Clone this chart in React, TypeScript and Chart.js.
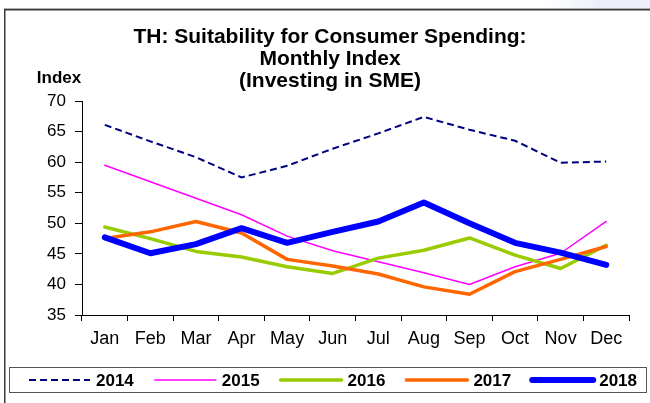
import React, { useEffect, useRef } from "react";
import { Chart, registerables } from "chart.js";

Chart.register(...registerables);

const months = ["Jan", "Feb", "Mar", "Apr", "May", "Jun", "Jul", "Aug", "Sep", "Oct", "Nov", "Dec"];
const seriesNames = ["2014", "2015", "2016", "2017", "2018"];
const idx2014 = [66.1, 63.4, 60.8, 57.5, 59.4, 62.2, 64.7, 67.4, 65.3, 63.5, 59.9, 60.1];
const idx2015 = [59.5, 56.8, 54.1, 51.4, 47.9, 45.5, 43.7, 41.9, 40.0, 42.9, 45.1, 50.3];
const idx2016 = [49.4, 47.5, 45.4, 44.5, 42.9, 41.8, 44.3, 45.6, 47.6, 44.8, 42.6, 46.4];
const idx2017 = [47.5, 48.6, 50.3, 48.4, 44.1, 43.0, 41.7, 39.6, 38.4, 42.1, 44.1, 46.2];
const idx2018 = [47.7, 45.1, 46.6, 49.2, 46.8, 48.6, 50.3, 53.4, 50.0, 46.8, 45.2, 43.2];
const titleLines = ["TH: Suitability for Consumer Spending:", "Monthly Index", "(Investing in SME)"];
const yAxisTitle = "Index";
const yMin = 35;
const yMax = 70;
const yStep = 5;

const FONT = "'Liberation Sans', Arial, Helvetica, sans-serif";

const decorPlugin = {
  id: "decor",
  beforeDraw(chart: any) {
    const ctx = chart.ctx;
    ctx.save();
    ctx.fillStyle = "#ffffff";
    ctx.fillRect(0, 0, chart.width, chart.height);
    // faint slide background at top right
    const g = ctx.createLinearGradient(540, 0, 600, 0);
    g.addColorStop(0, "rgba(238,241,250,0)");
    g.addColorStop(1, "rgba(236,239,250,1)");
    ctx.fillStyle = g;
    ctx.fillRect(540, 0, chart.width - 540, 8);
    // frame
    ctx.strokeStyle = "#b0b0b0";
    ctx.lineWidth = 1;
    ctx.beginPath();
    ctx.moveTo(4, 8.5);
    ctx.lineTo(chart.width, 8.5);
    ctx.stroke();
    ctx.strokeStyle = "#3a3a3a";
    ctx.lineWidth = 1.5;
    ctx.beginPath();
    ctx.moveTo(4, 9.75);
    ctx.lineTo(chart.width, 9.75);
    ctx.moveTo(4.75, 9);
    ctx.lineTo(4.75, chart.height);
    ctx.stroke();
    ctx.restore();
  },
  afterDraw(chart: any) {
    const ctx = chart.ctx;
    ctx.save();
    // title
    ctx.fillStyle = "#000";
    ctx.textAlign = "center";
    ctx.textBaseline = "middle";
    ctx.font = `bold 21px ${FONT}`;
    titleLines.forEach((t, i) => ctx.fillText(t, 330, 37 + i * 22));
    // y axis title
    ctx.font = `bold 17px ${FONT}`;
    ctx.fillText(yAxisTitle, 59, 78);
    // legend box
    ctx.strokeStyle = "#555";
    ctx.lineWidth = 1;
    ctx.strokeRect(9.5, 367.5, 637, 25);
    const ds = chart.data.datasets;
    ds.forEach((d: any, i: number) => {
      const x0 = 29 + i * 125.8;
      const y = 380;
      ctx.beginPath();
      ctx.strokeStyle = d.borderColor;
      ctx.lineWidth = d.borderWidth;
      ctx.setLineDash(d.borderDash || []);
      ctx.lineCap = d.borderDash && d.borderDash.length ? "butt" : "round";
      ctx.moveTo(x0, y);
      ctx.lineTo(x0 + 61, y);
      ctx.stroke();
      ctx.setLineDash([]);
      ctx.fillStyle = "#000";
      ctx.textAlign = "left";
      ctx.font = `bold 17px ${FONT}`;
      ctx.fillText(d.label, x0 + 67, y + 1);
    });
    ctx.restore();
  },
};

export default function App() {
  const ref = useRef<HTMLCanvasElement | null>(null);
  useEffect(() => {
    if (!ref.current) return;
    const mk = (label: string, data: number[], color: string, width: number, order: number, dash?: number[]) => ({
      label,
      data,
      borderColor: color,
      backgroundColor: color,
      borderWidth: width,
      borderDash: dash,
      borderCapStyle: dash ? "butt" : "round",
      borderJoinStyle: "round",
      pointRadius: 0,
      pointHoverRadius: 0,
      tension: 0,
      fill: false,
      order,
    });
    const chart = new Chart(ref.current, {
      type: "line",
      data: {
        labels: months,
        datasets: [
          mk(seriesNames[0], idx2014, "#000080", 2, 5, [7, 4]),
          mk(seriesNames[1], idx2015, "#FF00FF", 1.5, 4),
          mk(seriesNames[2], idx2016, "#99CC00", 3.5, 3),
          mk(seriesNames[3], idx2017, "#FF6600", 3.5, 2),
          mk(seriesNames[4], idx2018, "#0000FF", 6, 1),
        ] as any,
      },
      options: {
        animation: false,
        responsive: false,
        maintainAspectRatio: false,
        events: [],
        layout: { padding: { top: 101, right: 21, bottom: 0, left: 0 } },
        plugins: {
          legend: { display: false },
          title: { display: false },
          tooltip: { enabled: false },
        },
        scales: {
          x: {
            offset: true,
            grid: { display: true, drawOnChartArea: false, drawTicks: true, tickLength: 6, offset: true, color: "#000" },
            border: { display: true, color: "#000", width: 1 },
            ticks: { color: "#000", font: { family: FONT, size: 18 }, padding: 7, maxRotation: 0, autoSkip: false },
            afterFit: (s: any) => {
              s.height = 88;
            },
          },
          y: {
            min: yMin,
            max: yMax,
            grid: { display: true, drawOnChartArea: false, drawTicks: true, tickLength: 7, color: "#000" },
            border: { display: true, color: "#000", width: 1 },
            ticks: { stepSize: yStep, color: "#000", font: { family: FONT, size: 17 }, padding: 9 },
            afterFit: (s: any) => {
              s.width = 82;
            },
          },
        },
      },
      plugins: [decorPlugin],
    });
    return () => chart.destroy();
  }, []);
  return (
    <div style={{ position: "absolute", left: 0, top: 0, width: 650, height: 403 }}>
      <canvas ref={ref} width={650} height={403} style={{ display: "block", width: 650, height: 403 }} />
    </div>
  );
}
